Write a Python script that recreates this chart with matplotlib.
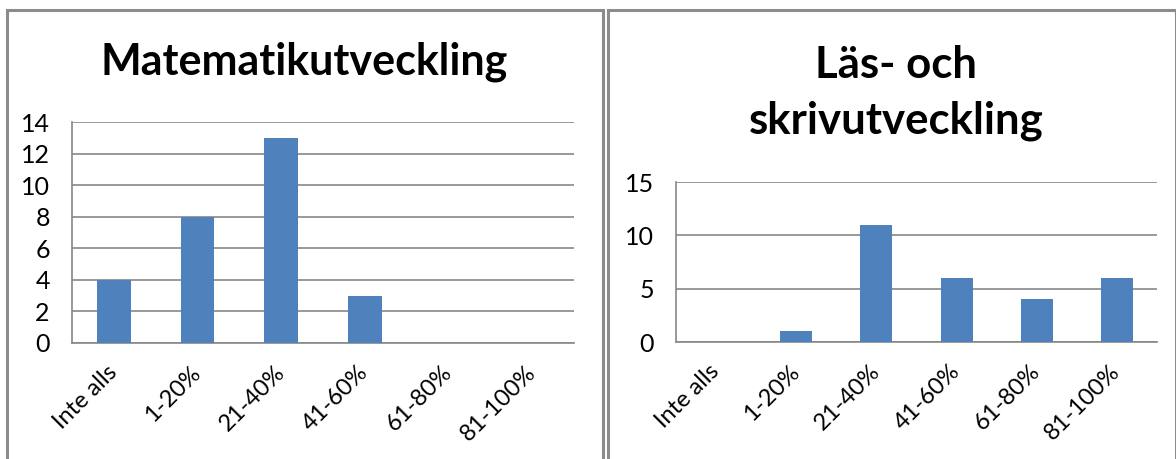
import matplotlib
matplotlib.use("Agg")
import matplotlib.pyplot as plt
from matplotlib.patches import Rectangle

categories = ["Inte alls", "1-20%", "21-40%", "41-60%", "61-80%", "81-100%"]
math_values = [4, 8, 13, 3, 0, 0]
read_values = [0, 1, 11, 6, 4, 6]
math_title = "Matematikutveckling"
read_title = "Läs- och\nskrivutveckling"
math_yticks = [0, 2, 4, 6, 8, 10, 12, 14]
read_yticks = [0, 5, 10, 15]

plt.rcParams['font.family'] = ['Lato', 'DejaVu Sans']
W, H = 1176, 459
fig = plt.figure(figsize=(W / 100, H / 100), dpi=100)

bar_color = "#4F81BD"
grid_color = "#878787"

def px(x0, y0, x1, y1):
    return [x0 / W, 1 - y1 / H, (x1 - x0) / W, (y1 - y0) / H]

def setup(ax, values, yticks):
    x = range(len(categories))
    ax.bar(x, values, width=0.4, color=bar_color, zorder=3)
    ax.set_xlim(-0.5, len(categories) - 0.5)
    ax.set_ylim(0, yticks[-1])
    ax.set_yticks(yticks)
    ax.set_xticks(list(x))
    ax.set_xticklabels(categories, rotation=45, ha='right', va='center',
                       rotation_mode='anchor', fontsize=17, color='black')
    ax.tick_params(axis='y', labelsize=18, length=0, pad=16)
    ax.tick_params(axis='x', length=0, pad=19)
    ax.grid(axis='y', color=grid_color, linewidth=1.2, zorder=0)
    for s in ['top', 'right']:
        ax.spines[s].set_visible(False)
    for s in ['left', 'bottom']:
        ax.spines[s].set_color(grid_color)
        ax.spines[s].set_linewidth(1.2)

ax1 = fig.add_axes(px(72, 122, 574, 343))
setup(ax1, math_values, math_yticks)
ax2 = fig.add_axes(px(676, 182, 1157, 342))
setup(ax2, read_values, read_yticks)

fig.text(304 / W, 1 - 62 / H, math_title, ha='center', va='center',
         fontsize=31, fontweight='bold')
fig.text(896 / W, 1 - 93 / H, read_title, ha='center', va='center',
         fontsize=31.5, fontweight='bold', linespacing=1.45)

for (x0, x1) in [(7, 603), (608, 1176)]:
    fig.patches.append(Rectangle((x0 / W, -0.05), (x1 - x0) / W, (H - 10) / H + 0.05,
                                 transform=fig.transFigure, fill=False,
                                 edgecolor="#8c8c8c", linewidth=2.2))

fig.savefig("out.png", dpi=100)
